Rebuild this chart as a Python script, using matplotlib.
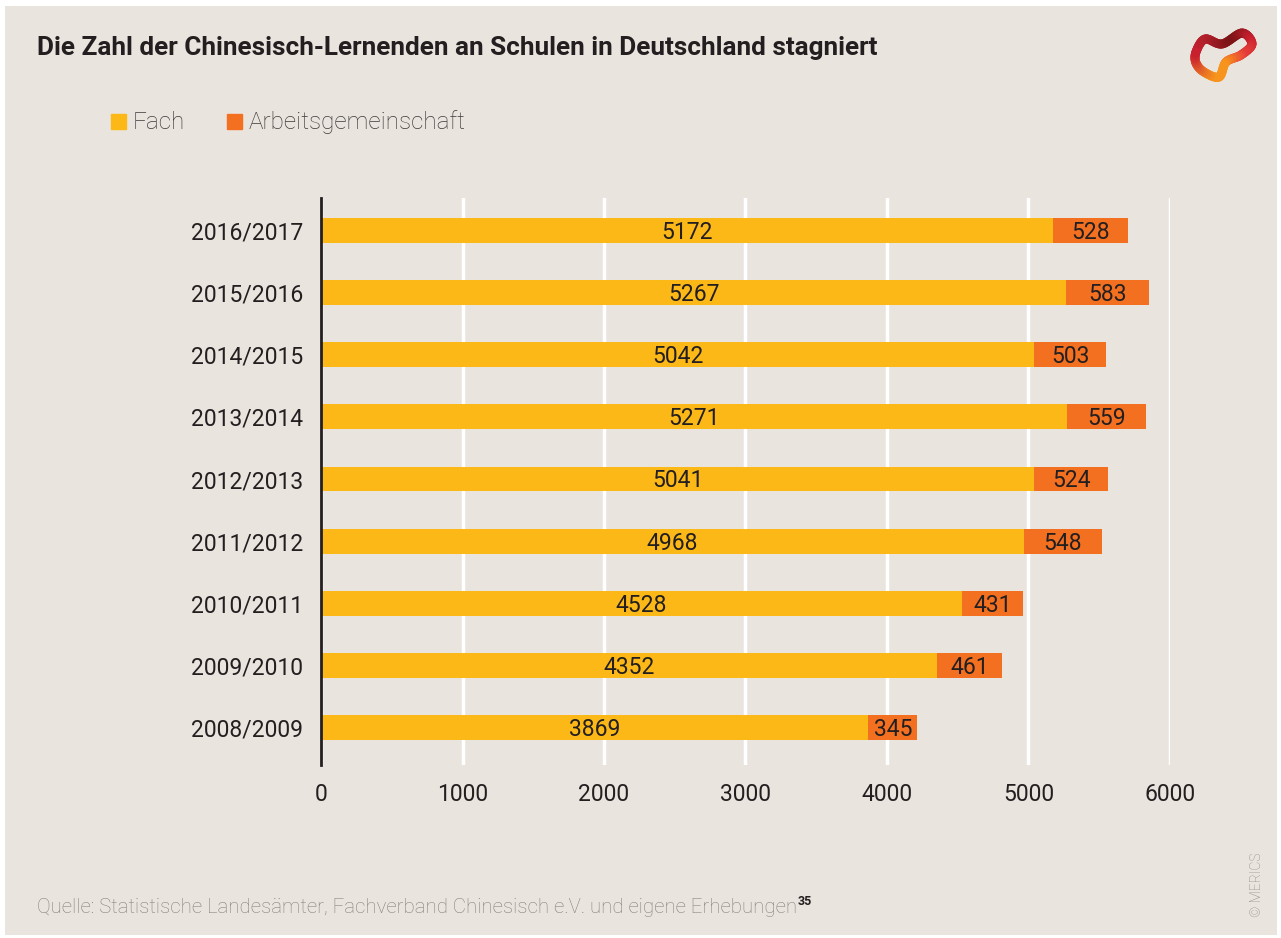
import matplotlib.pyplot as plt
from matplotlib.patches import Rectangle
from matplotlib.collections import LineCollection
from matplotlib.colors import LinearSegmentedColormap
import numpy as np

years = ["2008/2009", "2009/2010", "2010/2011", "2011/2012", "2012/2013",
         "2013/2014", "2014/2015", "2015/2016", "2016/2017"]
fach = [3869, 4352, 4528, 4968, 5041, 5271, 5042, 5267, 5172]
ag = [345, 461, 431, 548, 524, 559, 503, 583, 528]

BG = "#EAE4DE"
YELLOW = "#FBB816"
ORANGE = "#F37021"
TXT = "#231F20"

plt.rcParams['font.family'] = ['Roboto', 'DejaVu Sans']

W, H = 1281, 938
fig = plt.figure(figsize=(W / 100, H / 100), dpi=100)
fig.patch.set_facecolor("white")
fig.patches.append(Rectangle((5 / W, 1 - 935 / H), 1272 / W, 929 / H,
                             transform=fig.transFigure, facecolor=BG,
                             edgecolor="none", zorder=-10))

ax = fig.add_axes([321 / W, 1 - 765 / H, (1170 - 321) / W, (765 - 198) / H])
ax.patch.set_alpha(0)

y = np.arange(len(years))
ax.barh(y, fach, height=0.4, color=YELLOW, zorder=3)
ax.barh(y, ag, left=fach, height=0.4, color=ORANGE, zorder=3)

for i in range(len(years)):
    ax.text(fach[i] / 2, y[i] - 0.03, str(fach[i]), ha="center", va="center",
            fontsize=16.5, color=TXT, zorder=4)
    ax.text(fach[i] + ag[i] / 2, y[i] - 0.03, str(ag[i]), ha="center", va="center",
            fontsize=16.5, color=TXT, zorder=4)

ax.set_xlim(0, 6000)
ax.set_ylim(-0.6, 8.52)
ax.set_xticks(range(0, 7000, 1000))
ax.set_yticks(y)
ax.set_yticklabels(years)
ax.tick_params(axis="both", length=0, labelsize=16.5, colors=TXT)
ax.tick_params(axis="y", pad=13)
ax.tick_params(axis="x", pad=13)
ax.grid(axis="x", color="white", linewidth=2.5, zorder=1)
for s in ["top", "right", "bottom"]:
    ax.spines[s].set_visible(False)
ax.spines["left"].set_color(TXT)
ax.spines["left"].set_linewidth(2)
ax.spines["left"].set_zorder(5)

fig.text(37 / W, 1 - 48 / H, "Die Zahl der Chinesisch-Lernenden an Schulen in Deutschland stagniert",
         fontsize=18.8, fontweight="bold", color=TXT, va="center", ha="left")

# legend
fig.patches.append(Rectangle((111 / W, 1 - 129 / H), 15 / W, 15 / H,
                             transform=fig.transFigure, color=YELLOW))
fig.text(133 / W, 1 - 122 / H, "Fach", fontsize=17.5, fontweight="light",
         color="#3A3A3A", va="center")
fig.patches.append(Rectangle((227 / W, 1 - 129 / H), 15 / W, 15 / H,
                             transform=fig.transFigure, color=ORANGE))
fig.text(249 / W, 1 - 122 / H, "Arbeitsgemeinschaft", fontsize=17.5, fontweight="light",
         color="#3A3A3A", va="center")

# source
src = fig.text(37 / W, 1 - 907 / H,
               "Quelle: Statistische Landesämter, Fachverband Chinesisch e.V. und eigene Erhebungen",
               fontsize=14.7, fontweight="light", color="#85807C", va="center")
fig.canvas.draw()
bb = src.get_window_extent()
fig.text(bb.x1 / W + 1 / W, 1 - 901 / H, "35", fontsize=9, fontweight="bold",
         color=TXT, va="center")

fig.text(1257 / W, 1 - 885 / H, "© MERICS", fontsize=10, rotation=90,
         color="#8A8A8A", ha="center", va="center", fontweight="light")

# logo: smooth closed ribbon
ctrl = np.array([(1196, 52), (1205, 39), (1222, 44), (1242, 33), (1252, 44),
                 (1241, 55), (1226, 62), (1219, 77), (1204, 72), (1196, 63)], float)
n = len(ctrl)
pts = []
for k in range(n):
    p0, p1, p2, p3 = ctrl[k - 1], ctrl[k], ctrl[(k + 1) % n], ctrl[(k + 2) % n]
    for t in np.linspace(0, 1, 12, endpoint=False):
        pts.append(0.5 * (2 * p1 + (-p0 + p2) * t + (2 * p0 - 5 * p1 + 4 * p2 - p3) * t ** 2
                          + (-p0 + 3 * p1 - 3 * p2 + p3) * t ** 3))
pts.append(pts[0])
pts = np.array(pts)
fpts = np.column_stack([pts[:, 0] / W, 1 - pts[:, 1] / H])
segs = np.stack([fpts[:-1], fpts[1:]], axis=1)
cmap = LinearSegmentedColormap.from_list(
    "logo", ["#C8202F", "#B0202A", "#7A1416", "#C8202F", "#E8413A",
             "#F7941D", "#F7941D", "#E05A2A", "#C8202F"])
lc = LineCollection(segs, transform=fig.transFigure, cmap=cmap, linewidths=6.5,
                    capstyle="round")
lc.set_array(np.linspace(0, 1, len(segs)))
fig.add_artist(lc)

fig.savefig("out.png", dpi=100, facecolor=fig.get_facecolor())
